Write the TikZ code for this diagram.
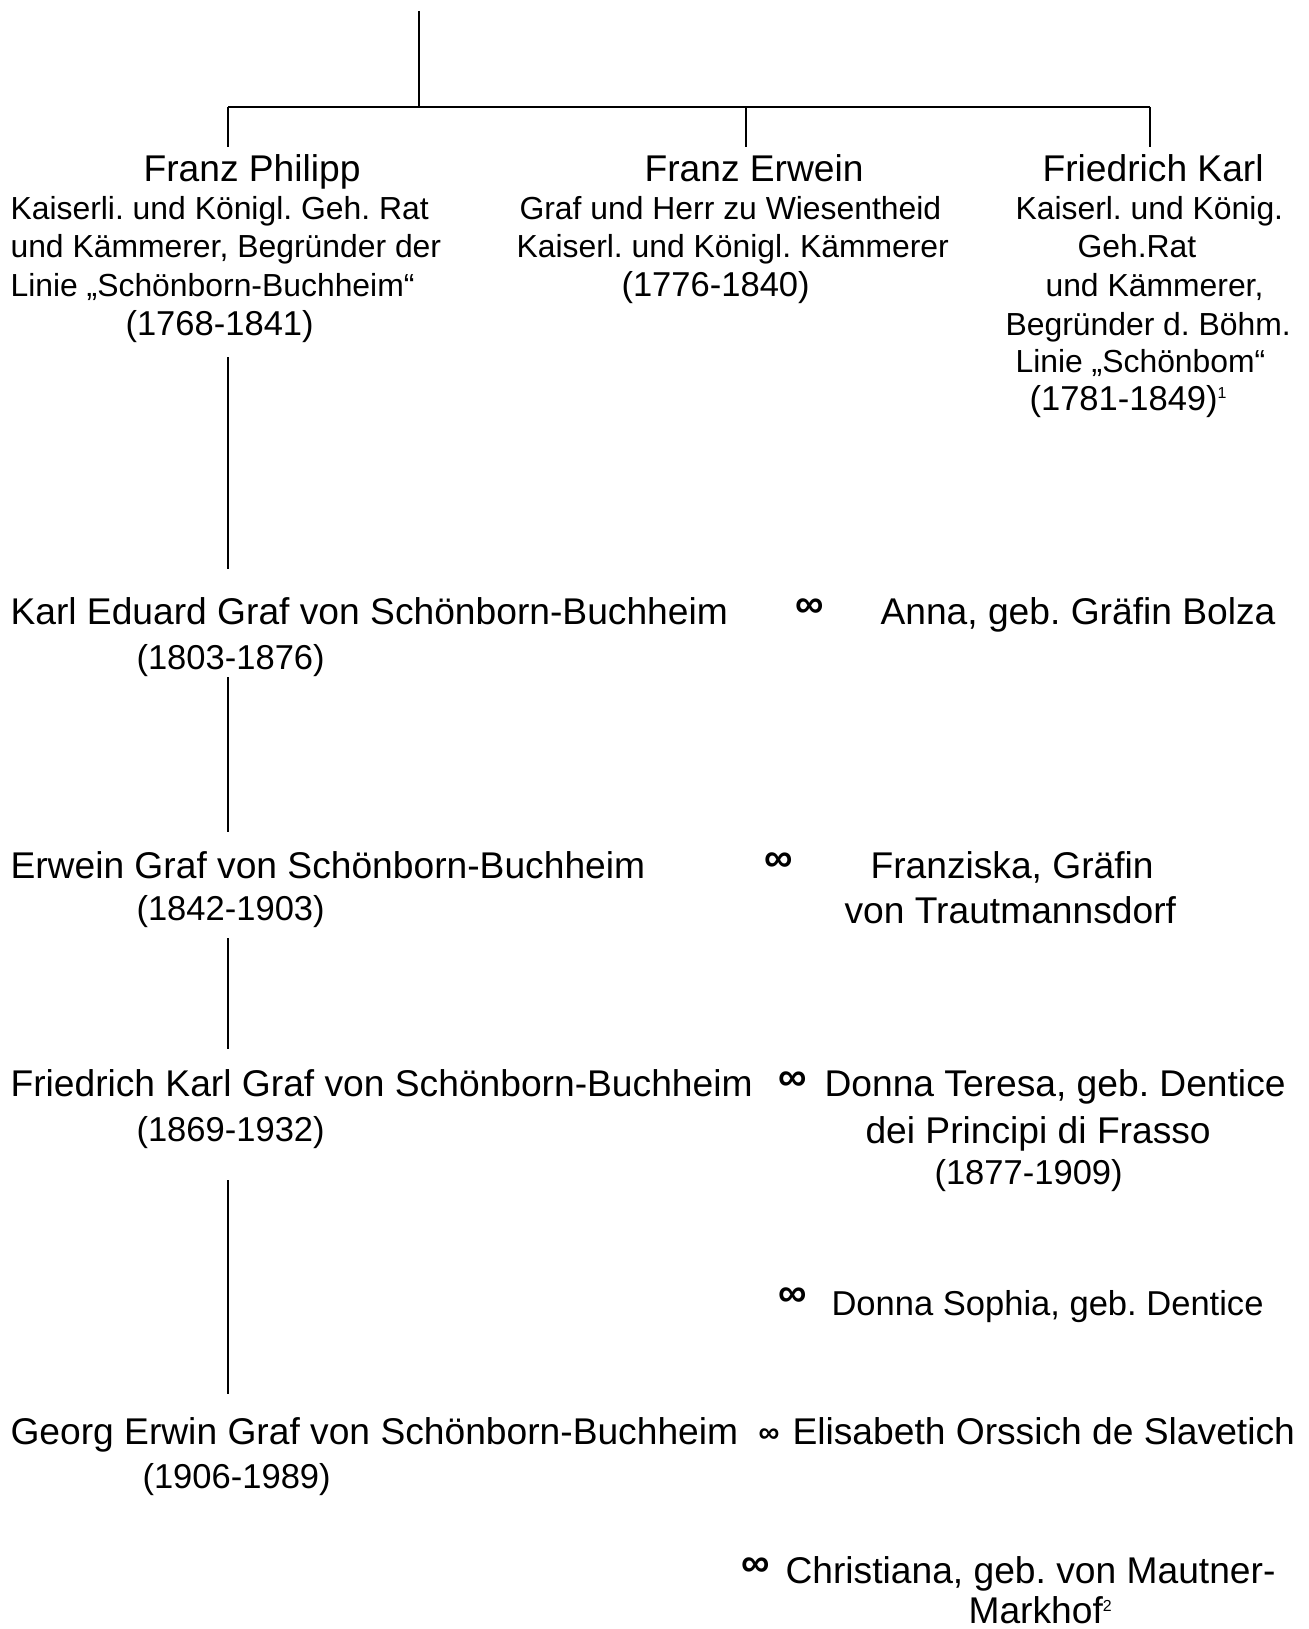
\documentclass[tikz,border=0pt]{standalone}
\usepackage{fontspec}
\setmainfont{Liberation Sans}
\usepackage{tikz}
\frenchspacing

\newcommand{\fnmark}[1]{\raisebox{4.5pt}{\fontsize{6}{7}\selectfont #1}}

\begin{document}
\begin{tikzpicture}[x=0.3764pt, y=-0.3764pt,
		big_style/.style={anchor=base west,inner sep=0pt,font=\fontsize{14}{17}\selectfont},
		mid_style/.style={anchor=base west,inner sep=0pt,font=\fontsize{13}{16}\selectfont},
		small_style/.style={anchor=base west,inner sep=0pt,font=\fontsize{12}{14}\selectfont},
		marr_style/.style={inner sep=0pt,font=\fontsize{15}{18}\selectfont\bfseries},
		edge_style/.style={draw=black,line width=0.45pt},
		bar_style/.style={draw=black,line width=0.8pt}]

		\useasboundingbox (0,0) rectangle (1308,1629);

		% the three brothers
		\node[big_style] (fp1) at (143,182) {Franz Philipp};
		\node[small_style] (fp2) at (10,219) {Kaiserli. und Königl. Geh. Rat};
		\node[small_style] (fp3) at (10,257) {und Kämmerer, Begründer der};
		\node[small_style] (fp4) at (10,296) {Linie „Schönborn-Buchheim“};
		\node[mid_style] (fp5) at (125,335) {(1768-1841)};

		\node[big_style] (fe1) at (644,182) {Franz Erwein};
		\node[small_style] (fe2) at (519,219) {Graf und Herr zu Wiesentheid};
		\node[small_style] (fe3) at (516,257) {Kaiserl. und Königl. Kämmerer};
		\node[mid_style] (fe4) at (621,296) {(1776-1840)};

		\node[big_style] (fk1) at (1042,182) {Friedrich Karl};
		\node[small_style] (fk2) at (1015,219) {Kaiserl. und König.};
		\node[small_style] (fk3) at (1077,257) {Geh.Rat};
		\node[small_style] (fk4) at (1045,296) {und Kämmerer,};
		\node[small_style] (fk5) at (1005,335) {Begründer d. Böhm.};
		\node[small_style] (fk6) at (1015,372) {Linie „Schönbom“};
		\node[mid_style] (fk7) at (1029,410) {(1781-1849)\fnmark{1}};

		% generations
		\node[big_style] (ke1) at (10,624) {Karl Eduard Graf von Schönborn-Buchheim};
		\node[mid_style] (ke2) at (136,669) {(1803-1876)};
		\node[marr_style] (m1) at (810,608) {∞};
		\node[big_style] (an1) at (880,624) {Anna, geb. Gräfin Bolza};

		\node[big_style] (er1) at (10,878) {Erwein Graf von Schönborn-Buchheim};
		\node[mid_style] (er2) at (136,920) {(1842-1903)};
		\node[marr_style] (m2) at (779,862) {∞};
		\node[big_style] (fr1) at (870,878) {Franziska, Gräfin};
		\node[big_style] (fr2) at (844,923) {von Trautmannsdorf};

		\node[big_style] (fs1) at (10,1096) {Friedrich Karl Graf von Schönborn-Buchheim};
		\node[mid_style] (fs2) at (136,1141) {(1869-1932)};
		\node[marr_style] (m3) at (793,1081) {∞};
		\node[big_style] (dt1) at (824,1096) {Donna Teresa, geb. Dentice};
		\node[big_style] (dt2) at (865,1143) {dei Principi di Frasso};
		\node[mid_style] (dt3) at (934,1184) {(1877-1909)};
		\node[marr_style] (m4) at (793,1297) {∞};
		\node[mid_style] (ds1) at (831,1315) {Donna Sophia, geb. Dentice};

		\node[big_style] (ge1) at (10,1444) {Georg Erwin Graf von Schönborn-Buchheim};
		\node[mid_style] (ge2) at (142,1488) {(1906-1989)};
		\node[marr_style,font=\fontsize{11}{13}\selectfont\bfseries] (m5) at (769,1436) {∞};
		\node[big_style] (el1) at (792,1444) {Elisabeth Orssich de Slavetich};
		\node[marr_style] (m6) at (756,1567) {∞};
		\node[big_style] (ch1) at (785,1583) {Christiana, geb. von Mautner-};
		\node[big_style] (ch2) at (968,1623) {Markhof\fnmark{2}};

		% line ends
		\coordinate (top) at (419,11);
		\coordinate (bar) at (419,107);
		\coordinate (barL) at (228,107);
		\coordinate (barM) at (746,107);
		\coordinate (barR) at (1150,107);
		\coordinate (dropL) at (228,147);
		\coordinate (dropM) at (746,147);
		\coordinate (dropR) at (1150,147);
		\coordinate (a1) at (228,357);
		\coordinate (a2) at (228,569);
		\coordinate (b1) at (228,677);
		\coordinate (b2) at (228,832);
		\coordinate (c1) at (228,938);
		\coordinate (c2) at (228,1049);
		\coordinate (d1) at (228,1180);
		\coordinate (d2) at (228,1394);

		\draw[edge_style] (top) edge (bar);
		\draw[bar_style] (barL) -- (barR);
		\draw[edge_style] (barL) edge (dropL);
		\draw[edge_style] (barM) edge (dropM);
		\draw[edge_style] (barR) edge (dropR);
		\draw[edge_style] (a1) edge (a2);
		\draw[edge_style] (b1) edge (b2);
		\draw[edge_style] (c1) edge (c2);
		\draw[edge_style] (d1) edge (d2);

\end{tikzpicture}
\end{document}
